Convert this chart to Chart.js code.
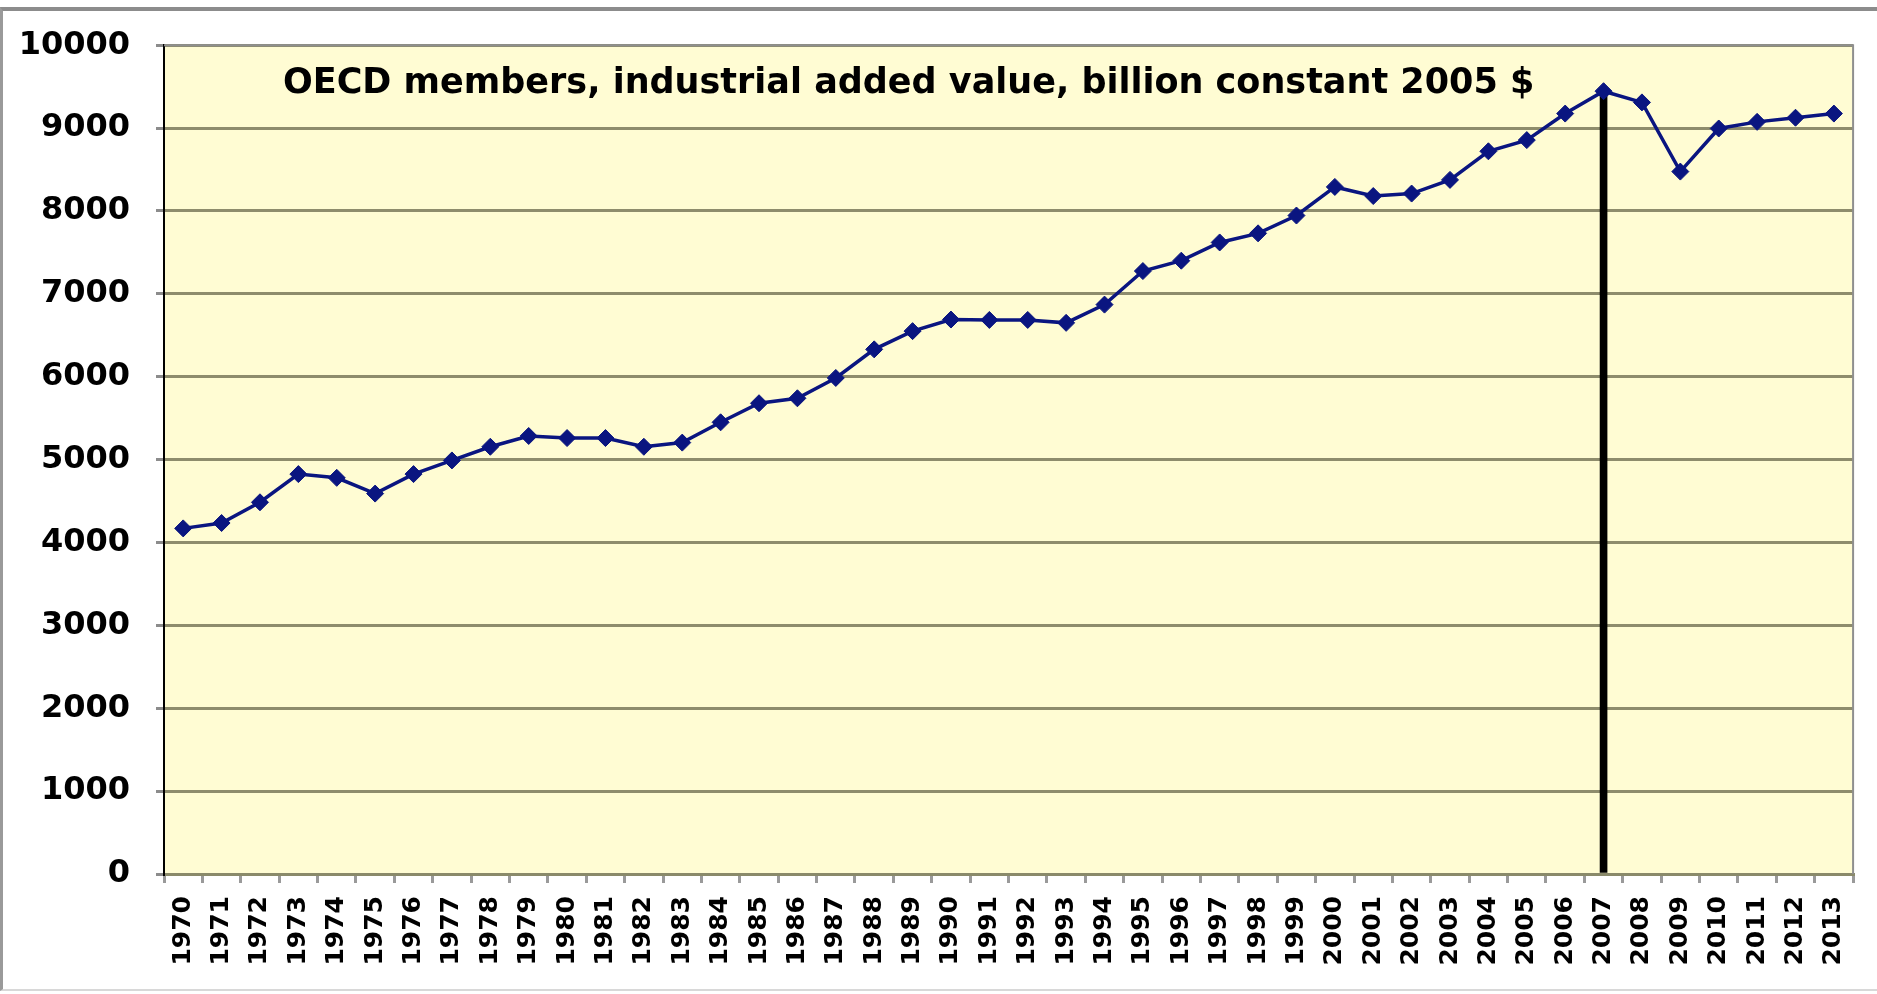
<!DOCTYPE html>
<html>
<head>
<meta charset="utf-8">
<script src="https://cdn.jsdelivr.net/npm/chart.js@4/dist/chart.umd.min.js"></script>
<style>
  html, body { margin: 0; padding: 0; background: #fff; overflow: hidden; }
  #wrap { position: relative; width: 1877px; height: 994px; }
  #frame {
    position: absolute; left: 0; top: 7px; width: 1880px; height: 978px;
    border-top: 4px solid #8c8c8c; border-left: 3px solid #9a9a9a; border-bottom: 2px solid #d8d8d8;
    pointer-events: none;
  }
  canvas { position: absolute; left: 0; top: 0; }
</style>
</head>
<body>
<div id="wrap">
  <div id="frame"></div>
  <canvas id="chart" width="1877" height="994"></canvas>
</div>
<script>
// OECD industrial added value, billion constant 2005 $
const years = [
  "1970", "1971", "1972", "1973", "1974", "1975", "1976", "1977", "1978", "1979",
  "1980", "1981", "1982", "1983", "1984", "1985", "1986", "1987", "1988", "1989",
  "1990", "1991", "1992", "1993", "1994", "1995", "1996", "1997", "1998", "1999",
  "2000", "2001", "2002", "2003", "2004", "2005", "2006", "2007", "2008", "2009",
  "2010", "2011", "2012", "2013"
];
const addedValue = [
  4170, 4235, 4485, 4825, 4780, 4590, 4825, 4990, 5155, 5285,
  5260, 5260, 5155, 5205, 5450, 5680, 5740, 5985, 6330, 6550,
  6690, 6685, 6685, 6650, 6870, 7275, 7400, 7620, 7730, 7945,
  8290, 8180, 8210, 8375, 8720, 8855, 9175, 9445, 9310, 8475,
  8995, 9075, 9125, 9175
];
// the black marker line at the 2007 peak
const peakYear = "2007";
const peakMarker = years.map((y, i) => (y === peakYear ? addedValue[i] : null));
const titleText = "OECD members, industrial added value, billion constant 2005 $";

const plotFrame = {
  id: "plotFrame",
  beforeDraw(chart) {
    const { ctx, chartArea: a } = chart;
    ctx.save();
    ctx.fillStyle = "#fffcd3";
    ctx.fillRect(a.left, a.top, a.right - a.left, a.bottom - a.top);
    ctx.restore();
  },
  afterDraw(chart) {
    const { ctx, chartArea: a } = chart;
    ctx.save();
    ctx.strokeStyle = "#8f8f8f";
    ctx.lineWidth = 2;
    ctx.beginPath();
    ctx.moveTo(a.left, a.top);
    ctx.lineTo(a.right, a.top);
    ctx.lineTo(a.right, a.bottom);
    ctx.stroke();
    ctx.fillStyle = "#000";
    ctx.font = "bold 35px 'DejaVu Sans'";
    ctx.textBaseline = "middle";
    ctx.fillText(titleText, 283, 84);
    ctx.restore();
  }
};

new Chart(document.getElementById("chart"), {
  data: {
    labels: years,
    datasets: [
      {
        type: "line",
        data: addedValue,
        borderColor: "#0a1580",
        backgroundColor: "#0a1580",
        borderWidth: 3.5,
        pointStyle: "rectRot",
        pointRadius: 8.5,
        pointBorderWidth: 1,
        tension: 0,
        order: 0
      },
      {
        type: "bar",
        data: peakMarker,
        backgroundColor: "#000",
        barThickness: 7,
        order: 1
      }
    ]
  },
  options: {
    responsive: false,
    animation: false,
    layout: { padding: { top: 43, right: 8, left: 0, bottom: 0 } },
    plugins: {
      legend: { display: false },
      tooltip: { enabled: false }
    },
    scales: {
      x: {
        offset: true,
        afterFit: (s) => { s.height = 120; },
        grid: {
          display: true,
          drawOnChartArea: false,
          drawTicks: true,
          tickLength: 9,
          offset: true,
          color: "#9a9a9a",
          lineWidth: 3
        },
        border: { color: "#8a8a6a", width: 3 },
        ticks: {
          autoSkip: false,
          minRotation: 90,
          maxRotation: 90,
          padding: 13,
          color: "#000",
          font: { family: "DejaVu Sans", size: 25, weight: "bold" }
        }
      },
      y: {
        min: 0,
        max: 10000,
        afterFit: (s) => { s.width = 164; },
        grid: {
          color: "#8e8c6c",
          lineWidth: 3,
          tickLength: 8,
          tickColor: "#8c8c8c"
        },
        border: { color: "#000", width: 2 },
        ticks: {
          stepSize: 1000,
          padding: 26,
          color: "#000",
          font: { family: "DejaVu Sans", size: 32, weight: "bold" },
          callback: (v) => String(v)
        }
      }
    }
  },
  plugins: [plotFrame]
});
</script>
</body>
</html>
